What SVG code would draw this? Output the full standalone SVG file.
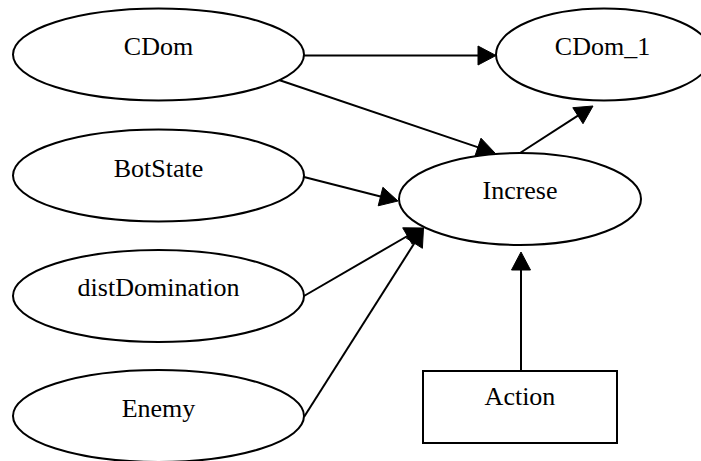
<svg xmlns="http://www.w3.org/2000/svg" width="701" height="461" viewBox="0 0 701 461">
  <style>
    .node ellipse, .node rect { fill: #ffffff; stroke: #000000; stroke-width: 2; }
    .label { font-family: Liberation Serif, Times New Roman, serif; font-size: 26px; fill: #000000; text-anchor: middle; }
    .edge line { stroke: #000000; stroke-width: 2; fill: none; }
    .edge polygon { fill: #000000; stroke: #000000; stroke-width: 1; }
  </style>
  <rect x="0" y="0" width="701" height="461" fill="#ffffff"/>

  <!-- nodes -->
  <g id="CDom" class="node">
    <ellipse cx="158.5" cy="54.5" rx="145.5" ry="46"/>
    <text class="label" x="158.5" y="55">CDom</text>
  </g>
  <g id="CDom_1" class="node">
    <ellipse cx="604" cy="54.5" rx="108" ry="46"/>
    <text class="label" x="602.5" y="54.5">CDom_1</text>
  </g>
  <g id="BotState" class="node">
    <ellipse cx="158.5" cy="175.5" rx="145.5" ry="46"/>
    <text class="label" x="158.5" y="176.5">BotState</text>
  </g>
  <g id="Increse" class="node">
    <ellipse cx="520" cy="199" rx="121" ry="46"/>
    <text class="label" x="520" y="199">Increse</text>
  </g>
  <g id="distDomination" class="node">
    <ellipse cx="158.5" cy="296" rx="145.5" ry="46"/>
    <text class="label" x="158.5" y="296">distDomination</text>
  </g>
  <g id="Enemy" class="node">
    <ellipse cx="158.5" cy="416" rx="145.5" ry="46"/>
    <text class="label" x="158.5" y="416.5">Enemy</text>
  </g>
  <g id="Action" class="node">
    <rect x="423" y="371" width="194" height="72"/>
    <text class="label" x="520" y="405">Action</text>
  </g>

  <!-- connectors -->
  <g id="edges" class="edge">
    <!-- CDom -> CDom_1 -->
    <line x1="304" y1="55.5" x2="479" y2="55.5"/>
    <polygon points="496,55.5 478,46 478,65"/>
    <!-- CDom -> Increse -->
    <line x1="279" y1="80" x2="479" y2="147.6"/>
    <polygon points="495,153 474.9,156.2 481,138.2"/>
    <!-- Increse -> CDom_1 -->
    <line x1="520" y1="153" x2="578.7" y2="115.2"/>
    <polygon points="593,106 583,123.7 572.8,107.7"/>
    <!-- BotState -> Increse -->
    <line x1="304" y1="177" x2="381.5" y2="196.8"/>
    <polygon points="398,201 378.2,205.8 382.9,187.3"/>
    <!-- distDomination -> Increse -->
    <line x1="304" y1="296" x2="408.3" y2="235.5"/>
    <polygon points="423.5,228 412.2,244.2 402.7,227.8"/>
    <!-- Enemy -> Increse -->
    <line x1="304" y1="417" x2="414.8" y2="242.5"/>
    <polygon points="423.5,228 422.4,248.3 406.3,238.1"/>
    <!-- Action -> Increse -->
    <line x1="521" y1="371" x2="521" y2="269"/>
    <polygon points="521,252 511.5,270 530.5,270"/>
  </g>
</svg>
